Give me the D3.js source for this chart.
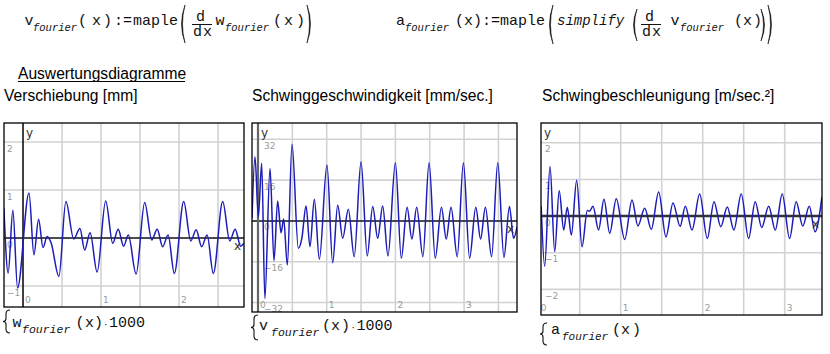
<!DOCTYPE html>
<html>
<head>
<meta charset="utf-8">
<script src="https://cdn.jsdelivr.net/npm/d3@7"></script>
<style>
  body { margin: 0; background: #fff; }
  svg { display: block; }
  .math { font-family: "Liberation Mono", "Courier New", monospace; fill: #111; }
  .title { font-family: "Liberation Sans", Arial, sans-serif; font-size: 15.6px; fill: #000; }
  .tick { font-family: "DejaVu Sans", Verdana, sans-serif; font-size: 9px; fill: #9a9a9a; }
  .axlab { font-family: "DejaVu Sans", Verdana, sans-serif; font-size: 12px; fill: #333; }
</style>
</head>
<body>
<svg id="chart" width="830" height="354"></svg>
<script>
// Verschiebung w(x)*1000 [mm]
const wX = [-0.245, -0.19, -0.13, -0.07, 0.077, 0.14, 0.20, 0.256, 0.31, 0.36, 0.46, 0.55, 0.65, 0.73, 0.79, 0.86, 0.95, 1.06, 1.15, 1.22, 1.29, 1.35, 1.45, 1.56, 1.65, 1.72, 1.79, 1.86, 1.94, 2.06, 2.15, 2.22, 2.29, 2.36, 2.44, 2.56, 2.65, 2.72, 2.79, 2.833];
const wY = [0.62, -0.73, 0.58, -1.04, 0.94, -0.35, 0.39, -0.2, 0.03, -0.1, -0.8, 0.76, -0.02, 0.2, -0.25, 0.11, -0.71, 0.77, -0.11, 0.18, -0.17, 0.06, -0.75, 0.74, -0.04, 0.18, -0.18, 0.06, -0.74, 0.76, -0.06, 0.17, -0.18, 0.06, -0.74, 0.76, -0.06, 0.18, -0.17, -0.11];

// Schwinggeschwindigkeit v(x)*1000 [mm/sec.]
const vX = [-0.087, -0.044, 0.005, 0.054, 0.10, 0.175, 0.233, 0.286, 0.335, 0.374, 0.427, 0.495, 0.587, 0.64, 0.699, 0.757, 0.82, 0.893, 1.004, 1.087, 1.16, 1.233, 1.315, 1.40, 1.50, 1.59, 1.67, 1.742, 1.815, 1.892, 2.0, 2.086, 2.17, 2.24, 2.31, 2.40, 2.49, 2.58, 2.67, 2.74, 2.81, 2.90, 2.99, 3.08, 3.17, 3.24, 3.31, 3.40, 3.49, 3.58, 3.66, 3.72, 3.77];
const vY = [1.2, 25.2, 1.7, 22.6, -30.4, 20.6, -15.6, 7.8, -4.6, 0.8, -17.3, 30.1, -10.7, -6.5, 5.9, -10.1, 8.5, -15, 21.9, -16.4, 6.2, -6.8, 4.6, -14, 23.2, -13.7, 5.7, -6.8, 5.9, -13.7, 22.8, -14.6, 5.4, -7.1, 5.4, -14, 22.8, -14.6, 5.4, -7.1, 5.4, -14, 22.8, -14.6, 5.4, -7.1, 5.4, -14, 22.8, -14.3, 5.7, -6.8, -2.3];

// Schwingbeschleunigung a(x) [m/sec.²]
const aX = [0.03, 0.073, 0.138, 0.195, 0.25, 0.305, 0.349, 0.398, 0.463, 0.528, 0.593, 0.62, 0.662, 0.73, 0.796, 0.866, 0.946, 1.049, 1.138, 1.21, 1.293, 1.373, 1.463, 1.552, 1.638, 1.725, 1.788, 1.87, 1.963, 2.056, 2.138, 2.22, 2.30, 2.38, 2.47, 2.56, 2.64, 2.72, 2.805, 2.885, 2.97, 3.06, 3.14, 3.22, 3.30, 3.37, 3.455];
const aY = [0.27, -1.37, 1.35, -0.97, 0.69, -0.38, 0.24, -0.52, 0.98, -0.84, 0.15, 0.13, 0.27, -0.38, 0.46, -0.47, 0.47, -0.64, 0.44, -0.27, 0.21, -0.36, 0.66, -0.57, 0.36, -0.28, 0.27, -0.38, 0.6, -0.61, 0.39, -0.29, 0.25, -0.38, 0.6, -0.61, 0.39, -0.31, 0.27, -0.38, 0.6, -0.61, 0.39, -0.27, 0.27, -0.43, 0.53];

// grid lines and tick labels
const wGridX = [0.5, 1, 1.5, 2, 2.5];
const wGridY = [2, 1, -1];
const wTicksX = [0, 1, 2];
const wTicksY = [2, 1, 0, -1];

const vGridX = [0.5, 1, 1.5, 2, 2.5, 3, 3.5];
const vGridY = [32, 16, -16, -32];
const vTicksX = [0, 1, 2, 3];
const vTicksY = [32, 16, 0, -16, -32];

const aGridX = [0.5, 1, 1.5, 2, 2.5, 3];
const aGridY = [2, 1, -1, -2];
const aTicksX = [0, 1, 2, 3];
const aTicksY = [2, 1, 0, -1, -2];

const titles = ["Verschiebung [mm]", "Schwinggeschwindigkeit [mm/sec.]", "Schwingbeschleunigung [m/sec.²]"];

const svg = d3.select("#chart");
svg.append("rect").attr("width", 830).attr("height", 354).attr("fill", "#fff");

const fmt = v => v < 0 ? "\u2212" + Math.abs(v) : String(v);

function drawPlot(p) {
  const x = d3.scaleLinear().domain(p.xDomain).range([p.left, p.right]);
  const y = d3.scaleLinear().domain(p.yDomain).range([p.bottom, p.top]);

  svg.append("clipPath")
    .attr("id", "clip-" + p.id)
    .append("rect")
      .attr("x", p.left)
      .attr("y", p.top)
      .attr("width", p.right - p.left)
      .attr("height", p.bottom - p.top);

  const g = svg.append("g").attr("clip-path", `url(#clip-${p.id})`);

  g.selectAll(".gx").data(p.gridX).join("line")
    .attr("x1", d => x(d)).attr("x2", d => x(d))
    .attr("y1", p.top).attr("y2", p.bottom)
    .attr("stroke", "#d2d2d2").attr("stroke-width", 1.6);
  g.selectAll(".gy").data(p.gridY).join("line")
    .attr("x1", p.left).attr("x2", p.right)
    .attr("y1", d => y(d)).attr("y2", d => y(d))
    .attr("stroke", "#d2d2d2").attr("stroke-width", 1.6);

  // axes
  g.append("line")
    .attr("x1", p.left).attr("x2", p.right)
    .attr("y1", y(0)).attr("y2", y(0))
    .attr("stroke", p.xAxisColor).attr("stroke-width", p.xAxisWidth);
  g.append("line")
    .attr("x1", x(0)).attr("x2", x(0))
    .attr("y1", p.top).attr("y2", p.bottom)
    .attr("stroke", p.yAxisColor).attr("stroke-width", p.yAxisWidth);

  // tick labels (the lowest y label sits half under the frame, as in Maple)
  g.selectAll(".ty").data(p.ticksY).join("text")
    .attr("class", "tick")
    .attr("x", p.yLabelX)
    .attr("y", d => y(d) + 9.5)
    .text(fmt);
  g.selectAll(".tx").data(p.ticksX).join("text")
    .attr("class", "tick")
    .attr("x", d => x(d) + 2)
    .attr("y", p.bottom - 4)
    .text(fmt);

  const line = d3.line()
    .x(d => x(d[0]))
    .y(d => y(d[1]))
    .curve(d3.curveMonotoneX);

  g.append("path")
    .datum(d3.zip(p.xs, p.ys))
    .attr("d", line)
    .attr("fill", "none")
    .attr("stroke", "#1c1cb8")
    .attr("stroke-width", 1.5)
    .attr("stroke-linejoin", "round");

  g.append("text").attr("class", "axlab")
    .attr("x", Math.max(x(0), p.left) + 3).attr("y", p.top + 14).text("y");
  g.append("text").attr("class", "axlab")
    .attr("x", p.right - 10).attr("y", y(0) + 12).text("x");

  svg.append("rect")
    .attr("x", p.left).attr("y", p.top)
    .attr("width", p.right - p.left).attr("height", p.bottom - p.top)
    .attr("fill", "none").attr("stroke", "#000").attr("stroke-width", 1.3);
}

drawPlot({ id: "w", xs: wX, ys: wY, left: 4, right: 244, top: 123, bottom: 307,
  xDomain: [-0.2436, 2.833], yDomain: [-1.4375, 2.396],
  gridX: wGridX, gridY: wGridY, ticksX: wTicksX, ticksY: wTicksY, yLabelX: 7,
  xAxisColor: "#111", xAxisWidth: 1.6, yAxisColor: "#111", yAxisWidth: 1.6 });

drawPlot({ id: "v", xs: vX, ys: vY, left: 252, right: 517, top: 123, bottom: 312,
  xDomain: [-0.0873, 3.77], yDomain: [-35.7, 38.4],
  gridX: vGridX, gridY: vGridY, ticksX: vTicksX, ticksY: vTicksY, yLabelX: 264,
  xAxisColor: "#111", xAxisWidth: 1.6, yAxisColor: "#666", yAxisWidth: 2.2 });

drawPlot({ id: "a", xs: aX, ys: aY, left: 541, right: 822, top: 123, bottom: 315,
  xDomain: [0.028, 3.455], yDomain: [-2.7, 2.54],
  gridX: aGridX, gridY: aGridY, ticksX: aTicksX, ticksY: aTicksY, yLabelX: 545,
  xAxisColor: "#333", xAxisWidth: 2.4, yAxisColor: "#333", yAxisWidth: 2 });

// headings
svg.append("text").attr("class", "title").attr("x", 18).attr("y", 79).text("Auswertungsdiagramme");
svg.append("line").attr("x1", 18).attr("x2", 185).attr("y1", 81.5).attr("y2", 81.5)
  .attr("stroke", "#000").attr("stroke-width", 1);
svg.selectAll(".ptitle").data(titles).join("text")
  .attr("class", "title")
  .attr("x", (d, i) => [4, 252, 542][i])
  .attr("y", 101)
  .text(d => d);

// maple math: one text element per expression, pieces as tspans [text, x, y, size, italic]
function mathText(parts) {
  const t = svg.append("text").attr("class", "math");
  parts.forEach(([s, x, y, size, italic]) => {
    t.append("tspan")
      .attr("x", x).attr("y", y)
      .style("font-size", size + "px")
      .style("font-style", italic ? "italic" : "normal")
      .text(s);
  });
}
function paren(x, y0, y1, right) {
  const w = 5, m = (y0 + y1) / 2;
  const d = right
    ? `M${x},${y0} Q${x + w + 2},${m} ${x},${y1} Q${x + w},${m} ${x},${y0}Z`
    : `M${x + w},${y0} Q${x - 2},${m} ${x + w},${y1} Q${x},${m} ${x + w},${y0}Z`;
  svg.append("path").attr("d", d).attr("fill", "#111").attr("stroke", "#111").attr("stroke-width", 0.6);
}
function brace(x, y0, y1) {
  const m = (y0 + y1) / 2;
  svg.append("path")
    .attr("d", `M${x + 6},${y0} Q${x + 2},${y0} ${x + 2},${y0 + 4} L${x + 2},${m - 3} Q${x + 2},${m} ${x - 1},${m} Q${x + 2},${m} ${x + 2},${m + 3} L${x + 2},${y1 - 4} Q${x + 2},${y1} ${x + 6},${y1}`)
    .attr("fill", "none").attr("stroke", "#111").attr("stroke-width", 1.1);
}
function fracBar(x0) {
  svg.append("line").attr("x1", x0).attr("x2", x0 + 20).attr("y1", 24.5).attr("y2", 24.5)
    .attr("stroke", "#111").attr("stroke-width", 1);
}

// v_fourier(x) := maple(d/dx w_fourier(x))
mathText([
  ["v", 24.5, 25, 15], ["fourier", 33, 31, 10.5, true],
  ["(", 78, 25, 15], ["x", 92, 25, 15], [")", 103, 25, 15],
  [":=", 114, 25, 15], ["maple", 133, 25, 15],
  ["w", 215.5, 25, 15], ["fourier", 225, 31, 10.5, true],
  ["(", 273, 25, 15], ["x", 284, 25, 15], [")", 296, 25, 15]
]);
mathText([["d", 196, 21, 15]]);
mathText([["d", 193, 36, 15], ["x", 203, 36, 15]]);
paren(180, 5, 43, false);
fracBar(192);
paren(307, 5, 43, true);

// a_fourier(x) := maple(simplify(d/dx v_fourier(x)))
mathText([
  ["a", 396, 25, 15], ["fourier", 405, 31, 10.5, true],
  ["(", 455, 25, 15], ["x", 464, 25, 15], [")", 473, 25, 15],
  [":=", 482, 25, 15], ["maple", 500, 25, 15],
  ["simplify", 557, 25, 14, true],
  ["v", 670.5, 25, 15], ["fourier", 680, 31, 10.5, true],
  ["(", 734, 25, 15], ["x", 743, 25, 15], [")", 753, 25, 15]
]);
mathText([["d", 645, 21, 15]]);
mathText([["d", 642, 36, 15], ["x", 652, 36, 15]]);
paren(548, 5, 44, false);
paren(632, 9, 41, false);
fracBar(641);
paren(761, 9, 41, true);
paren(768, 5, 44, true);

// captions under the plots
brace(4, 310, 333);
mathText([
  ["w", 12.5, 327, 15], ["fourier", 22, 333, 11.5, true],
  ["(", 75.5, 327, 15], ["x", 85, 327, 15], [")", 94, 327, 15],
  ["\u00b7", 103, 327, 9], ["1000", 109, 327, 15]
]);

brace(252, 315, 340);
mathText([
  ["v", 259, 330, 15], ["fourier", 271, 336, 11.5, true],
  ["(", 322, 330, 15], ["x", 331, 330, 15], [")", 341, 330, 15],
  ["\u00b7", 350.5, 330, 9], ["1000", 356.5, 330, 15]
]);

brace(541, 323, 345);
mathText([
  ["a", 551, 334, 15], ["fourier", 562, 340, 11, true],
  ["(", 612, 334, 15], ["x", 621, 334, 15], [")", 632, 334, 15]
]);
</script>
</body>
</html>
